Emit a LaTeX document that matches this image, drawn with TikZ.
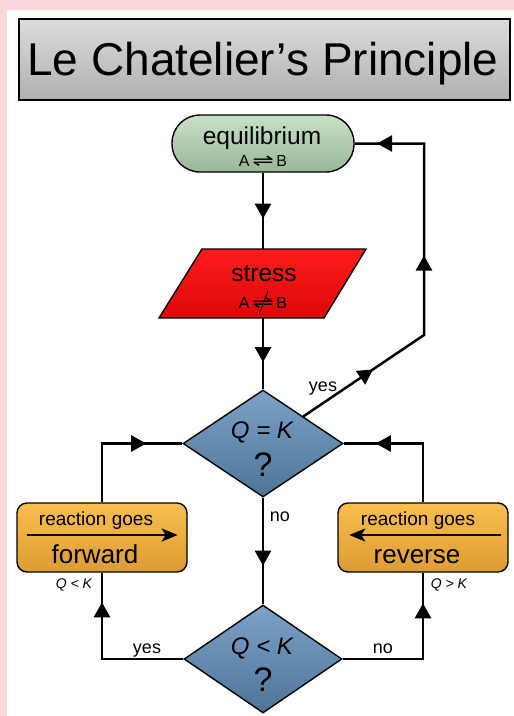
\documentclass[tikz,border=0pt]{standalone}
\usepackage{fontspec}
\setmainfont{Liberation Sans}
\newfontfamily\symfont{DejaVu Sans}
\usetikzlibrary{shapes.geometric,arrows.meta,decorations.markings}
\definecolor{pinkbg}{HTML}{F9D8D9}
\definecolor{titletop}{HTML}{DCDCDC}
\definecolor{titlebot}{HTML}{B0B0B0}
\definecolor{greentop}{HTML}{C8E1C8}
\definecolor{greenbot}{HTML}{97B797}
\definecolor{redtop}{HTML}{FF1C1C}
\definecolor{redbot}{HTML}{DC0808}
\definecolor{bluetop}{HTML}{7DA2C8}
\definecolor{bluebot}{HTML}{4E7498}
\definecolor{orangetop}{HTML}{F8BE4E}
\definecolor{orangebot}{HTML}{DD9C34}
\newcommand{\myfs}[1]{\fontsize{#1}{#1}\selectfont}
\newcommand{\eqsym}{\scalebox{1.6}[1.05]{\symfont ⇌}}
\begin{document}
\begin{tikzpicture}[x=1pt,y=-1pt,
  conn/.style={line width=2.5pt, line join=miter},
  arrowat/.style={postaction={decorate,decoration={markings,mark=at position #1 with {\arrow{Triangle[length=15pt,width=16pt]}}}}},
  box/.style={draw=black, line width=1.4pt},
  lbl/.style={anchor=base, inner sep=0pt},
  inarrow/.style={line width=2.3pt, -{Stealth[length=16pt,width=13pt,inset=4pt]}}
]
\useasboundingbox (0,0) rectangle (514,716);
\fill[pinkbg] (0,0) rectangle (514,716);
\fill[white] (7,9.5) rectangle (514,716);

% title
\node[box, rectangle, top color=titletop, bottom color=titlebot,
  minimum width=491pt, minimum height=81pt, inner sep=0pt] (title) at (264.5,59.5) {};
\node[lbl] (titletext) at (263,75) {\myfs{46}Le Chatelier’s Principle};

% equilibrium
\node[box, rectangle, rounded corners=28pt, top color=greentop, bottom color=greenbot,
  minimum width=182pt, minimum height=57pt, inner sep=0pt] (eq) at (263,143.5) {};
\node[lbl] (eqtext) at (262,144) {\myfs{24.5}equilibrium};
\node[lbl] (eqsub) at (263,166.7) {\myfs{16}A\,\eqsym\,B};

% stress
\draw[box, top color=redtop, bottom color=redbot] (202,249) -- (366,249) -- (324,318) -- (159,318) -- cycle;
\node[rectangle, minimum width=120pt, minimum height=69pt, inner sep=0pt] (stress) at (263,283.5) {};
\node[lbl] (stresstext) at (264,281) {\myfs{24.5}stress};
\node[lbl] (stresssub) at (263,308) {\myfs{16}A\,\eqsym\,B};
\coordinate (slashtop) at (268,291);
\coordinate (slashbot) at (259.5,313.5);
\draw[line width=0.9pt] (slashtop) -- (slashbot);

% Q = K diamond
\node[box, diamond, top color=bluetop, bottom color=bluebot,
  minimum width=160pt, minimum height=107pt, inner sep=0pt] (qk) at (263,443.5) {};
\node[lbl] (qktext) at (262,438) {\myfs{24}\itshape Q = K};
\node[lbl] (qkq) at (263,476.7) {\myfs{34}?};

% Q < K diamond
\node[box, diamond, top color=bluetop, bottom color=bluebot,
  minimum width=158pt, minimum height=108pt, inner sep=0pt] (dk) at (263,659) {};
\node[lbl] (dktext) at (262,654) {\myfs{24}\itshape Q < K};
\node[lbl] (dkq) at (263,691) {\myfs{34}?};

% forward / reverse boxes
\node[box, rectangle, rounded corners=10pt, top color=orangetop, bottom color=orangebot,
  minimum width=170pt, minimum height=69pt, inner sep=0pt] (fwd) at (102,537.5) {};
\node[lbl] (fwdtop) at (96,525) {\myfs{19}reaction goes};
\node[lbl] (fwdbot) at (95,563) {\myfs{26}forward};
\draw[inarrow] ([xshift=11pt,yshift=2.5pt]fwd.west) -- ([xshift=-10pt,yshift=2.5pt]fwd.east);

\node[box, rectangle, rounded corners=10pt, top color=orangetop, bottom color=orangebot,
  minimum width=170pt, minimum height=69pt, inner sep=0pt] (rev) at (423,537.5) {};
\node[lbl] (revtop) at (418,525) {\myfs{19}reaction goes};
\node[lbl] (revbot) at (417,563) {\myfs{26}reverse};
\draw[inarrow] ([xshift=-8pt,yshift=2.5pt]rev.east) -- ([xshift=12pt,yshift=2.5pt]rev.west);

% coordinates
\coordinate (c1) at (424,335);
\coordinate (c2) at (424,143.5);
\coordinate (l1) at (102,443.5);
\coordinate (r1) at (423,443.5);
\coordinate (l2) at (102,659);
\coordinate (r2) at (423,659);

% connectors
\draw[conn, arrowat=46pt] (eq.south) -- (stress.north);
\draw[conn, arrowat=44pt] (stress.south) -- (qk.north);
\draw[conn, arrowat=84pt, arrowat=225pt, arrowat=384pt] (qk.north east) -- (c1) -- (c2) -- (eq.east);
\draw[conn, arrowat=68pt] (qk.south) -- (dk.north);
\draw[conn, arrowat=103pt] (fwd.north) -- (l1) -- (qk.west);
\draw[conn, arrowat=106pt] (rev.north) -- (r1) -- (qk.east);
\draw[conn, arrowat=138pt] (dk.west) -- (l2) -- (fwd.south);
\draw[conn, arrowat=136pt] (dk.east) -- (r2) -- (rev.south);

% labels
\node[lbl] (yes1) at (323,391.7) {\myfs{18}yes};
\node[lbl] (no1) at (280,521.7) {\myfs{18}no};
\node[lbl] (yes2) at (147,653.3) {\myfs{18}yes};
\node[lbl] (no2) at (383,653.3) {\myfs{18}no};
\node[lbl] (qlt) at (74,588) {\myfs{14}\itshape Q < K};
\node[lbl] (qgt) at (449,588) {\myfs{14}\itshape Q > K};
\end{tikzpicture}
\end{document}
